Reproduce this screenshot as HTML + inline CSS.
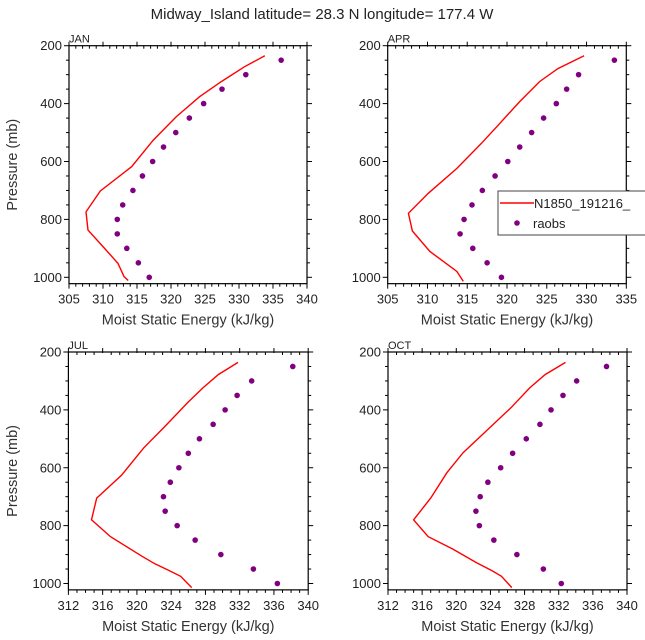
<!DOCTYPE html>
<html><head><meta charset="utf-8"><style>
html,body{margin:0;padding:0;background:#fff;}
svg{display:block;font-family:"Liberation Sans","DejaVu Sans",sans-serif;}
</style></head><body>
<svg id="chart" width="645" height="640" viewBox="0 0 645 640" xmlns="http://www.w3.org/2000/svg">
<text x="322" y="19" text-anchor="middle" font-size="15" fill="#222">Midway_Island  latitude= 28.3 N longitude= 177.4 W</text>
<g id="panels"></g>
</svg>
<script>
const obsP = [250,300,350,400,450,500,550,600,650,700,750,800,850,900,950,1000];
const janLineP = [235,273,324,376,445,526,618,702,774,837,894,952,998,1011];
const janLineX = [333.8,330.8,327.4,324.2,320.8,317.4,314.2,309.6,307.5,307.8,310.0,312.2,313.1,313.7];
const janObs = [336.2,331.0,327.5,324.8,322.7,320.7,318.9,317.3,315.8,314.4,312.9,312.1,312.1,313.5,315.2,316.8];
const aprLineP = [235,279,324,393,480,537,624,710,779,840,911,957,980,1014];
const aprLineX = [329.7,326.4,324.1,321.6,318.7,316.8,313.7,310.1,307.6,308.1,310.3,312.6,313.7,314.5];
const aprObs = [333.5,329.0,327.5,326.2,324.6,323.1,321.6,320.1,318.5,316.9,315.6,314.6,314.1,315.7,317.5,319.3];
const julLineP = [236,278,324,376,456,531,626,705,780,838,906,932,953,975,1014];
const julLineX = [331.8,329.5,327.7,325.9,323.3,320.8,318.2,315.3,314.7,316.9,320.6,322.1,323.6,325.1,326.4];
const julObs = [338.2,333.4,331.7,330.3,328.9,327.3,326.0,324.9,323.9,323.1,323.3,324.7,326.8,329.8,333.6,336.4];
const octLineP = [236,278,324,393,473,548,617,705,780,838,881,927,956,975,1014];
const octLineX = [332.8,330.4,328.6,326.4,323.5,320.8,318.9,317.0,315.0,316.7,319.6,322.3,324.2,325.3,326.5];
const octObs = [337.6,334.1,332.5,331.1,329.8,328.2,326.6,325.2,323.7,322.8,322.3,322.7,324.4,327.1,330.2,332.3];
const janXTicks = [305,310,315,320,325,330,335,340];
const aprXTicks = [305,310,315,320,325,330,335];
const lowXTicks = [312,316,320,324,328,332,336,340];
const yTicks = [200,400,600,800,1000];

const NS="http://www.w3.org/2000/svg";
const root=document.getElementById('panels');
function mk(tag,attrs,parent){const e=document.createElementNS(NS,tag);for(const k in attrs)e.setAttribute(k,attrs[k]);(parent||root).appendChild(e);return e;}

function panel(cfg){
  const g=mk('g',{});
  
  
  const L=cfg.left,R=cfg.right,T=cfg.top,B1000=cfg.y1000;
  const pScale=(B1000-T)/800;
  const yOf=p=>T+(p-200)*pScale;
  const bottom=yOf(1022);
  const xOf=v=>L+(v-cfg.xmin)/(cfg.xmax-cfg.xmin)*(R-L);
  const frame=mk('rect',{x:L,y:T,width:R-L,height:bottom-T,fill:'none',stroke:'#000','stroke-width':1.2},g);
  
  
  for(let p=200;p<=1000;p+=50){
    const y=yOf(p),maj=(p%200===0),len=maj?5:3;
    mk('line',{x1:L-len,x2:L,y1:y,y2:y,stroke:'#000','stroke-width':1},g);
    mk('line',{x1:R,x2:R+len,y1:y,y2:y,stroke:'#000','stroke-width':1},g);
  }
  yTicks.forEach(p=>{
    const t=mk('text',{x:L-7,y:yOf(p)+4.5,'text-anchor':'end','font-size':13,fill:'#222'},g);
    t.textContent=p;
    
    
  });
  for(let v=cfg.xmin;v<=cfg.xmax+0.001;v+=1){
    const x=xOf(v),maj=cfg.xticks.indexOf(v)>=0,len=maj?5:3;
    mk('line',{x1:x,x2:x,y1:bottom,y2:bottom+len,stroke:'#000','stroke-width':1},g);
    mk('line',{x1:x,x2:x,y1:T-(maj?4:0),y2:T+(maj?1:3),stroke:'#000','stroke-width':1},g);
  }
  cfg.xticks.forEach(v=>{
    const t=mk('text',{x:xOf(v),y:bottom+20,'text-anchor':'middle','font-size':13,fill:'#222'},g);
    t.textContent=v;
    
    
  });
  const xt=mk('text',{x:(L+R)/2,y:bottom+41,'text-anchor':'middle','font-size':14.5,fill:'#333'},g);
  xt.textContent='Moist Static Energy (kJ/kg)';
  
  
  if(cfg.ytitle){
    const cy=(T+bottom)/2;
    const yt=mk('text',{x:13,y:cy,'text-anchor':'middle','font-size':14.5,fill:'#333',transform:'rotate(-90 13 '+cy+')'},g);
    yt.setAttribute('dy','4');
    yt.textContent='Pressure (mb)';
    
    
  }
  const lb=mk('text',{x:L,y:T-3,'font-size':11,fill:'#222'},g);
  lb.textContent=cfg.label;
  
  
  const pts=cfg.lineX.map((v,i)=>xOf(v).toFixed(1)+','+yOf(cfg.lineP[i]).toFixed(1)).join(' ');
  const pl=mk('polyline',{points:pts,fill:'none',stroke:'#ff0000','stroke-width':1.4},g);
  
  
  cfg.obs.forEach((v,i)=>{
    const c=mk('circle',{cx:xOf(v),cy:yOf(obsP[i]),r:2.8,fill:'#800080'},g);
    
    
  });
}
panel({key:'jan',label:'JAN',left:69,right:307,top:45.7,y1000:277.3,xmin:305,xmax:340,xticks:janXTicks,lineP:janLineP,lineX:janLineX,obs:janObs,ytitle:true});
panel({key:'apr',label:'APR',left:387.7,right:626.3,top:45.7,y1000:277.3,xmin:305,xmax:335,xticks:aprXTicks,lineP:aprLineP,lineX:aprLineX,obs:aprObs,ytitle:false});
panel({key:'jul',label:'JUL',left:68.4,right:308.2,top:352,y1000:583.5,xmin:312,xmax:340,xticks:lowXTicks,lineP:julLineP,lineX:julLineX,obs:julObs,ytitle:true});
panel({key:'oct',label:'OCT',left:388,right:627,top:352,y1000:583.5,xmin:312,xmax:340,xticks:lowXTicks,lineP:octLineP,lineX:octLineX,obs:octObs,ytitle:false});

const lg=mk('g',{});


mk('rect',{x:498,y:191,width:160,height:44,fill:'#fff',stroke:'#444','stroke-width':1},lg);
mk('line',{x1:500,x2:534,y1:203,y2:203,stroke:'#ff0000','stroke-width':1.4},lg);
const l1=mk('text',{x:534,y:208,'font-size':13,fill:'#222'},lg);
l1.textContent='N1850_191216_';


mk('circle',{cx:517,cy:223,r:2.8,fill:'#800080'},lg);
const l2=mk('text',{x:533,y:228,'font-size':13,fill:'#222'},lg);
l2.textContent='raobs';


</script>
</body></html>
